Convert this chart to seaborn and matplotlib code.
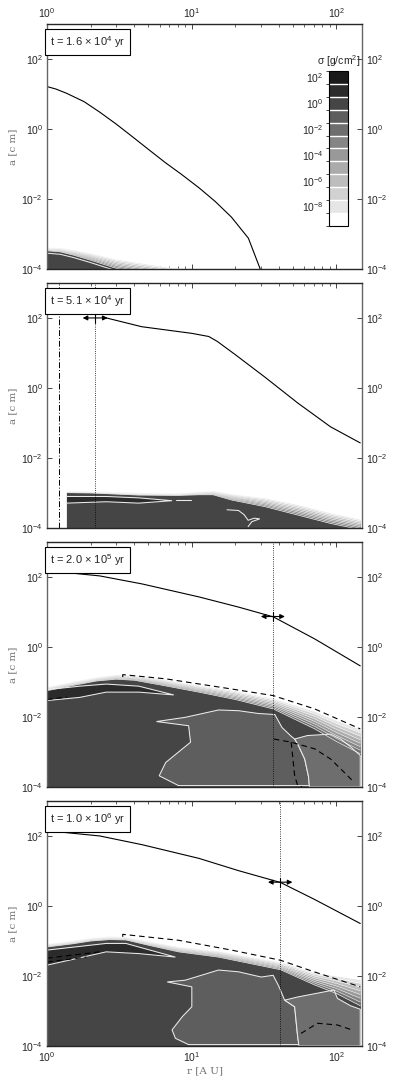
import numpy as np
import matplotlib
matplotlib.use("Agg")
import matplotlib.pyplot as plt
import matplotlib.ticker as ticker
import seaborn as sns
from matplotlib.colors import ListedColormap, BoundaryNorm
from matplotlib.cm import ScalarMappable

sns.set_style("ticks")
plt.rcParams["font.family"] = ["Liberation Sans", "DejaVu Sans"]
plt.rcParams["mathtext.fontset"] = "custom"
plt.rcParams["mathtext.rm"] = "Liberation Sans"
plt.rcParams["mathtext.it"] = "Liberation Sans:italic"

# sigma levels (exponent of g/cm^2) and their grey shade, low -> high
sigma_exp = [-9, -8, -7, -6, -5, -4, -3, -2, -1, 0, 1, 2]
sigma_grey = [1.0, 0.9, 0.82, 0.74, 0.67, 0.6, 0.52, 0.43, 0.37, 0.27, 0.17, 0.1]
fringe_grey = [0.43, 0.52, 0.6, 0.67, 0.74, 0.82, 0.9]   # 1e-2 ... 1e-8

times = ["t = 1.6 × 10$^4$ yr", "t = 5.1 × 10$^4$ yr",
         "t = 2.0 × 10$^5$ yr", "t = 1.0 × 10$^6$ yr"]

# ---- panel 1 ----
p1_curve_r = [1.0, 1.15, 1.36, 1.8, 2.31, 3.0, 3.88, 5.0, 6.6, 8.5, 11.2, 14.5, 18.8, 24.6, 29.7]
p1_curve_la = [1.21, 1.14, 1.02, 0.78, 0.48, 0.14, -0.22, -0.58, -0.97, -1.3, -1.68, -2.07, -2.52, -3.12, -4.0]
p1_edge_r = [1.0, 1.23, 1.51, 1.97, 2.56, 3.0, 4.3, 7.3, 10.0]
p1_edge_la = [-3.48, -3.51, -3.6, -3.74, -3.89, -3.98, -4.1, -4.25, -4.3]
p1_fringe = [0.1, 0.12, 0.15, 0.2, 0.24, 0.26, 0.28, 0.28, 0.28]
p1_white_r = [1.0, 1.23, 1.51, 1.97, 2.56, 3.0]
p1_white_la = [-3.55, -3.58, -3.67, -3.81, -3.96, -4.05]

# ---- panel 2 ----
p2_curve_r = [2.4, 4.5, 10.0, 13.1, 15.0, 20.0, 32.0, 54.0, 91.0, 146.0]
p2_curve_la = [2.03, 1.75, 1.56, 1.47, 1.33, 0.95, 0.31, -0.43, -1.11, -1.57]
p2_edge_r = [1.36, 2.0, 4.3, 8.0, 11.2, 14.0, 18.8, 32.0, 54.0, 91.0, 113.0, 146.0]
p2_edge_la = [-2.99, -3.0, -3.06, -3.07, -3.05, -3.05, -3.2, -3.39, -3.63, -3.87, -3.95, -4.05]
p2_fringe = [0.06, 0.06, 0.08, 0.08, 0.1, 0.12, 0.18, 0.25, 0.3, 0.3, 0.3, 0.3]
p2_core_r = [1.36, 2.56, 4.3, 7.3, 4.3, 2.56, 1.36]
p2_core_la = [-3.10, -3.10, -3.14, -3.22, -3.29, -3.25, -3.29]
p2_loop_r = [17.5, 21.0, 23.0, 24.5, 27.0, 29.4, 26.0, 24.5]
p2_loop_la = [-3.48, -3.5, -3.62, -3.78, -3.72, -3.74, -3.82, -3.96]
p2_seg_r = [7.8, 9.8]
p2_seg_la = [-3.21, -3.21]
p2_dashdot = 1.21
p2_dotted = 2.15
p2_arrow = (2.15, 100.0, 1.76, 2.62)

# ---- panel 3 ----
p3_curve_r = [1.0, 2.31, 4.54, 11.2, 21.0, 36.6, 70.7, 146.0]
p3_curve_la = [2.18, 2.03, 1.8, 1.43, 1.14, 0.86, 0.23, -0.54]
p3_edge_r = [1.0, 1.5, 2.2, 3.0, 4.0, 6.0, 11.2, 20.0, 36.6, 70.7, 100.0, 146.0]
p3_edge_la = [-1.25, -1.1, -0.97, -0.92, -0.95, -1.08, -1.29, -1.5, -1.77, -2.34, -2.7, -3.05]
p3_fringe = [0.12, 0.12, 0.12, 0.14, 0.15, 0.18, 0.2, 0.25, 0.3, 0.5, 0.6, 0.7]
p3_core_r = [1.0, 1.68, 2.56, 4.3, 7.5, 4.3, 2.56, 1.68, 1.0]
p3_core_la = [-1.22, -1.12, -1.06, -1.12, -1.37, -1.29, -1.29, -1.44, -1.53]
p3_blob_r = [5.7, 9.0, 15.3, 21.0, 28.8, 37.5, 42.0, 48.6, 51.4, 53.9, 60.3, 64.0, 65.0,
             8.1, 5.95, 6.6, 9.8, 9.5, 5.7]
p3_blob_la = [-2.13, -2.01, -1.8, -1.82, -1.9, -1.93, -2.3, -2.55, -2.63, -2.77, -3.2, -3.69, -3.96,
              -3.96, -3.68, -3.3, -2.72, -2.25, -2.13]
p3_right_r = [51.4, 63.0, 91.0, 106.7, 125.0, 146.0, 146.0, 65.0, 64.0, 60.3, 53.9, 51.4]
p3_right_la = [-2.63, -2.53, -2.49, -2.63, -2.85, -3.1, -4.0, -4.0, -3.69, -3.2, -2.77, -2.63]
p3_dash_up_r = [3.33, 3.33, 6.6, 18.8, 36.6, 70.7, 146.0]
p3_dash_up_la = [-0.86, -0.79, -0.91, -1.2, -1.39, -1.77, -2.34]
p3_dash_lo_r = [36.9, 48.6, 70.7, 91.0, 113.0, 132.0]
p3_dash_lo_la = [-2.63, -2.72, -2.91, -3.2, -3.58, -3.86]
p3_dash_v_r = [48.6, 50.0, 51.4, 53.9, 58.0]
p3_dash_v_la = [-2.72, -3.2, -3.68, -3.96, -4.0]
p3_dash_l_r = [1.0, 1.37]
p3_dash_l_la = [-1.5, -1.43]
p3_dotted = 36.6
p3_arrow = (36.6, 10 ** 0.87, 30.0, 44.0)

# ---- panel 4 ----
p4_curve_r = [1.0, 2.31, 4.54, 11.2, 21.0, 41.1, 70.3, 146.0]
p4_curve_la = [2.15, 2.0, 1.75, 1.36, 1.01, 0.67, 0.19, -0.50]
p4_edge_r = [1.0, 1.5, 2.0, 2.7, 3.5, 5.0, 8.1, 15.3, 41.0, 70.0, 100.0, 146.0]
p4_edge_la = [-1.17, -1.08, -1.0, -0.96, -0.97, -1.12, -1.31, -1.46, -1.82, -2.25, -2.5, -2.85]
p4_fringe = [0.1, 0.1, 0.1, 0.1, 0.1, 0.12, 0.15, 0.18, 0.22, 0.35, 0.5, 0.75]
p4_core_r = [1.0, 2.56, 3.5, 7.7, 4.3, 2.56, 1.0]
p4_core_la = [-1.26, -1.07, -1.07, -1.46, -1.36, -1.31, -1.69]
p4_blob_r = [6.76, 9.0, 15.3, 21.0, 30.2, 36.5, 40.0, 43.8, 51.4, 53.9, 55.0,
             9.5, 7.7, 7.3, 8.6, 10.0, 10.0, 6.76]
p4_blob_la = [-2.17, -2.12, -1.83, -1.88, -2.03, -1.98, -2.3, -2.69, -2.88, -3.73, -3.96,
              -3.96, -3.78, -3.54, -3.16, -2.88, -2.31, -2.17]
p4_right_r = [43.8, 53.9, 96.0, 101.6, 125.0, 146.0, 146.0, 55.0, 53.9, 51.4, 43.8]
p4_right_la = [-2.69, -2.6, -2.4, -2.64, -2.85, -2.95, -4.0, -4.0, -3.73, -2.88, -2.69]
p4_dash_up_r = [3.33, 3.33, 8.1, 18.8, 41.0, 70.0, 146.0]
p4_dash_up_la = [-0.88, -0.81, -0.98, -1.26, -1.55, -1.88, -2.31]
p4_dash_l1_r = [1.0, 2.31]
p4_dash_l1_la = [-1.49, -1.31]
p4_dash_l2_r = [1.0, 1.87]
p4_dash_l2_la = [-1.6, -1.46]
p4_dash_lo_r = [56.9, 74.0, 101.6, 128.0]
p4_dash_lo_la = [-3.64, -3.35, -3.40, -3.54]
p4_dotted = 41.0
p4_arrow = (41.0, 10 ** 0.68, 33.6, 49.6)


def pw(la):
    return 10 ** np.asarray(la, dtype=float)


def grey(level):
    return sigma_grey[sigma_exp.index(level)]


def draw_disc(ax, r, la, w):
    r = np.asarray(r)
    la = np.asarray(la)
    w = np.asarray(w)
    n = len(fringe_grey)
    for k in range(n, 0, -1):
        top = 10 ** (la + w * k / n)
        ax.fill_between(r, 1e-6, top, color=str(fringe_grey[k - 1]), lw=0)
        ax.plot(r, top, color="white", lw=0.35)
    ax.fill_between(r, 1e-6, 10 ** la, color=str(grey(0)), lw=0)
    ax.plot(r, 10 ** la, color="0.92", lw=0.5)


def region(ax, r, la, level):
    ax.fill(r, pw(la), fc=str(grey(level)), ec="0.92", lw=0.75)


def dashed(ax, r, la):
    ax.plot(r, pw(la), color="k", lw=0.8, ls=(0, (5, 3.5)))


def arrow(ax, spec):
    rc, a, lo, hi = spec
    ax.annotate("", xy=(hi, a), xytext=(lo, a),
                arrowprops=dict(arrowstyle="<|-|>", color="k", lw=0.8,
                                mutation_scale=7, shrinkA=0, shrinkB=0))
    ax.plot([rc, rc], [a / 1.35, a * 1.35], color="k", lw=0.8)


def curve(ax, r, la):
    sns.lineplot(x=r, y=pw(la), ax=ax, color="k", lw=0.8)


fig, axes = plt.subplots(4, 1, figsize=(3.93, 10.88), dpi=100)
fig.subplots_adjust(left=0.120, right=0.921, top=0.978, bottom=0.0386, hspace=0.057)

ax1, ax2, ax3, ax4 = axes

# panel 1
draw_disc(ax1, p1_edge_r, p1_edge_la, p1_fringe)
ax1.plot(p1_white_r, pw(p1_white_la), color="0.92", lw=0.75)
curve(ax1, p1_curve_r, p1_curve_la)

# panel 2
draw_disc(ax2, p2_edge_r, p2_edge_la, p2_fringe)
region(ax2, p2_core_r, p2_core_la, 1)
ax2.plot(p2_loop_r, pw(p2_loop_la), color="0.92", lw=0.75)
ax2.plot(p2_seg_r, pw(p2_seg_la), color="0.92", lw=0.75)
ax2.axvline(p2_dashdot, color="k", lw=0.7, ls=(0, (6, 2, 1, 2)))
ax2.axvline(p2_dotted, color="k", lw=0.6, ls=":")
curve(ax2, p2_curve_r, p2_curve_la)
arrow(ax2, p2_arrow)

# panel 3
draw_disc(ax3, p3_edge_r, p3_edge_la, p3_fringe)
region(ax3, p3_core_r, p3_core_la, 1)
region(ax3, p3_blob_r, p3_blob_la, -1)
region(ax3, p3_right_r, p3_right_la, -2)
dashed(ax3, p3_dash_up_r, p3_dash_up_la)
dashed(ax3, p3_dash_lo_r, p3_dash_lo_la)
dashed(ax3, p3_dash_v_r, p3_dash_v_la)
dashed(ax3, p3_dash_l_r, p3_dash_l_la)
ax3.axvline(p3_dotted, color="k", lw=0.6, ls=":")
curve(ax3, p3_curve_r, p3_curve_la)
arrow(ax3, p3_arrow)

# panel 4
draw_disc(ax4, p4_edge_r, p4_edge_la, p4_fringe)
region(ax4, p4_core_r, p4_core_la, 1)
region(ax4, p4_blob_r, p4_blob_la, -1)
region(ax4, p4_right_r, p4_right_la, -2)
dashed(ax4, p4_dash_up_r, p4_dash_up_la)
dashed(ax4, p4_dash_l1_r, p4_dash_l1_la)
dashed(ax4, p4_dash_l2_r, p4_dash_l2_la)
dashed(ax4, p4_dash_lo_r, p4_dash_lo_la)
ax4.axvline(p4_dotted, color="k", lw=0.6, ls=":")
curve(ax4, p4_curve_r, p4_curve_la)
arrow(ax4, p4_arrow)

for i, ax in enumerate(axes):
    ax.set_xscale("log")
    ax.set_yscale("log")
    ax.set_xlim(1, 150)
    ax.set_ylim(1e-4, 1e3)
    ax.set_yticks([1e-4, 1e-2, 1e0, 1e2])
    ax.yaxis.set_minor_locator(ticker.NullLocator())
    ax.tick_params(which="both", direction="in", top=True, right=True,
                   labelright=True, labelsize=7.5, pad=3)
    ax.tick_params(which="major", length=3.5, width=0.6)
    ax.tick_params(which="minor", length=2, width=0.5)
    ax.tick_params(labelbottom=(i == 3), labeltop=(i == 0))
    for s in ["left", "right"]:
        ax.spines[s].set_color("0.4")
    for s in ax.spines.values():
        s.set_linewidth(1.0)
    ax.set_ylabel("a [c m]", family="DejaVu Serif", color="0.45", fontsize=7.5, labelpad=3)
    ax.set_xlabel("")
    ax.text(0.008, 0.958, times[i], transform=ax.transAxes, ha="left", va="top",
            fontsize=8, bbox=dict(boxstyle="square,pad=0.45", fc="white", ec="k", lw=0.8),
            zorder=10)

ax4.set_xlabel("r [A U]", family="DejaVu Serif", color="0.45", fontsize=7.5, labelpad=2)

# colour bar in the first panel
bounds = np.arange(-9.5, 3.0, 1.0)
cmap = ListedColormap([str(g) for g in sigma_grey])
norm = BoundaryNorm(bounds, cmap.N)
cax = ax1.inset_axes([0.895, 0.176, 0.061, 0.632])
cb = fig.colorbar(ScalarMappable(norm=norm, cmap=cmap), cax=cax,
                  ticks=[-8, -6, -4, -2, 0, 2], drawedges=True)
cb.dividers.set_color("white")
cb.dividers.set_linewidth(1.0)
cb.outline.set_edgecolor("k")
cb.outline.set_linewidth(0.8)
cax.yaxis.set_ticks_position("left")
cax.set_yticklabels([f"10$^{{{k}}}$" for k in [-8, -6, -4, -2, 0, 2]])
cax.tick_params(length=0, labelsize=7.5, pad=4)
cax.set_title("σ [g/cm$^2$]", fontsize=7.5, pad=4)

fig.savefig("out.png", dpi=100)
